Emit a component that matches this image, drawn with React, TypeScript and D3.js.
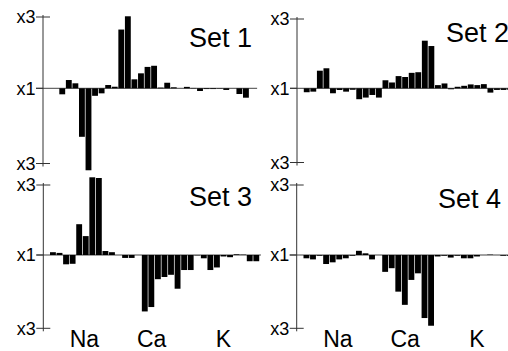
import * as d3 from "d3";

// Fold change per element, in log3 units (1 = x3 up, -1 = x3 down)
const set1 = [0, 0, -0.08, 0.116, 0.07, -0.645, -1.09, -0.1, -0.067, 0.046, 0.022, 0.824, 1.01, 0.126, 0.21, 0.3,
  0.316, 0.01, 0.078, 0.014, 0, 0.02, 0.005, -0.036, -0.01, -0.01, -0.005, -0.022, 0, -0.076, -0.125, 0];
const set2 = [-0.053, -0.045, 0.254, 0.289, -0.067, -0.023, -0.045, -0.02, -0.147, -0.125, -0.09, -0.125, 0.116, 0.084, 0.176, 0.163,
  0.223, 0.232, 0.687, 0.61, 0.046, 0.07, -0.013, 0.022, 0.036, 0.056, 0.046, 0.06, -0.058, -0.022, -0.022, -0.02];
const set3 = [0.04, 0.03, -0.127, -0.12, 0.44, 0.27, 1.11, 1.1, 0.057, 0.04, 0, -0.04, -0.04, 0, -0.77, -0.71,
  -0.33, -0.3, -0.27, -0.46, -0.205, -0.205, -0.005, -0.045, -0.205, -0.17, -0.02, -0.03, 0.01, 0.005, -0.085, -0.085];
const set4 = [-0.045, -0.06, -0.01, -0.123, -0.1, -0.06, -0.045, -0.01, 0.06, 0.024, -0.06, 0, -0.23, -0.18, -0.5, -0.68,
  -0.34, -0.25, -0.86, -0.965, -0.02, -0.01, -0.035, -0.01, -0.045, -0.045, -0.02, 0, 0.005, 0, -0.01, -0.01];

const setNames = ["Set 1", "Set 2", "Set 3", "Set 4"];
const elements = ["Na", "Ca", "K"];
const elementCentres = [5.25, 15.5, 26.45]; // position along the bar index axis
const tickValues = [1, 0, -1];
const tickLabels = ["x3", "x1", "x3"];

const W = 508;
const H = 351;
const STEP = 6.56;
const FONT = "'Liberation Sans', Arial, Helvetica, sans-serif";

const layout = [
  { values: set1, axisX: 43, barX: 46.2, top: 17, base: 88.3, bottom: 163.5, titleX: 189, titleY: 46.5, labels: false },
  { values: set2, axisX: 297, barX: 303.8, top: 19, base: 88.3, bottom: 162.5, titleX: 446, titleY: 42, labels: false },
  { values: set3, axisX: 43.3, barX: 50, top: 185, base: 255, bottom: 328.3, titleX: 189, titleY: 205.5, labels: true },
  { values: set4, axisX: 296.7, barX: 303.5, top: 185, base: 255, bottom: 328.3, titleX: 438, titleY: 208, labels: true },
];

function Panel({ p, name }: { p: (typeof layout)[number]; name: string }) {
  const n = p.values.length;
  const x = d3.scaleLinear().domain([0, n]).range([p.barX, p.barX + n * STEP]);
  const y = d3.scaleLinear().domain([-1, 0, 1]).range([p.bottom, p.base, p.top]);
  const y0 = y(0);

  return (
    <g>
      {/* baseline (x1) */}
      <line x1={p.axisX - 7} x2={x(n) + 1} y1={y0} y2={y0} stroke="#444" strokeWidth={1} />
      {/* bars */}
      {p.values.map((v, i) => {
        const yv = y(v);
        return (
          <rect
            key={i}
            x={x(i)}
            width={STEP - 0.7}
            y={Math.min(yv, y0)}
            height={Math.abs(yv - y0)}
            fill="#000"
          />
        );
      })}
      {/* axis */}
      <line x1={p.axisX} x2={p.axisX} y1={p.top - 2} y2={p.bottom + 3} stroke="#333" strokeWidth={1} />
      {tickValues.map((t, i) => (
        <g key={i}>
          <line x1={p.axisX - 7} x2={t === 0 ? p.axisX : p.axisX + 7} y1={y(t)} y2={y(t)} stroke="#333" strokeWidth={1} />
          <text x={p.axisX - 7.5} y={y(t)} dy="0.36em" textAnchor="end" fontSize={18} fontFamily={FONT} fill="#000">
            {tickLabels[i]}
          </text>
        </g>
      ))}
      <text x={p.titleX} y={p.titleY} fontSize={27} fontFamily={FONT} fill="#000">
        {name}
      </text>
      {p.labels &&
        elements.map((e, i) => (
          <text key={e} x={x(elementCentres[i])} y={347} textAnchor="middle" fontSize={23} fontFamily={FONT} fill="#000">
            {e}
          </text>
        ))}
    </g>
  );
}

export default function App() {
  return (
    <svg
      width={W}
      height={H}
      viewBox={`0 0 ${W} ${H}`}
      style={{ position: "absolute", left: 0, top: 0, background: "#fff" }}
    >
      <rect width={W} height={H} fill="#fff" />
      {layout.map((p, i) => (
        <Panel key={i} p={p} name={setNames[i]} />
      ))}
    </svg>
  );
}
